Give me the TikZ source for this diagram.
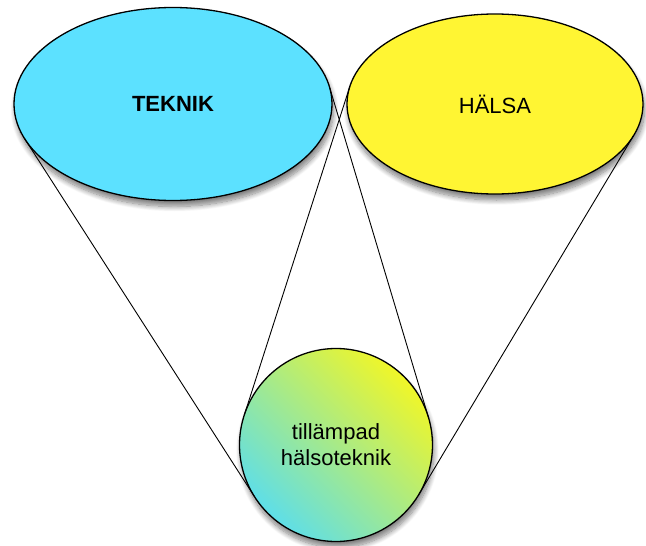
\documentclass[tikz,border=0pt]{standalone}
\usepackage{fontspec}
\setmainfont{Liberation Sans}
\usetikzlibrary{shapes.geometric,shadows.blur}
\definecolor{tekblue}{RGB}{92,225,255}
\definecolor{halyel}{RGB}{255,245,51}
\definecolor{gradyel}{RGB}{240,246,40}
\definecolor{gradmid}{RGB}{172,236,130}
\definecolor{gradcyan}{RGB}{94,222,232}
\tikzset{
  blob/.style={ellipse, draw=black, line width=1.3pt, inner sep=0pt, outer sep=0pt,
    font=\fontsize{22}{26}\selectfont,
    blur shadow={shadow xshift=1.5pt, shadow yshift=-6pt, shadow opacity=50, shadow blur steps=10, shadow blur radius=5pt}},
  link/.style={draw=black, line width=0.9pt}
}
\begin{document}
\begin{tikzpicture}[x=1pt,y=-1pt]
\useasboundingbox (0,0) rectangle (646,546);
\node[blob, fill=tekblue, minimum width=318pt, minimum height=193pt] (tek) at (173,104) {\bfseries TEKNIK};
\node[blob, fill=halyel, minimum width=296pt, minimum height=180pt] (hal) at (495,104) {HÄLSA};
\node[blob, circle, minimum size=193pt, top color=gradyel, middle color=gradmid, bottom color=gradcyan, shading angle=-45, align=center] (app) at (336,445) {tillämpad\\hälsoteknik};
\draw[link] (tek.193.2) -- (app.212.75);
\draw[link] (tek.6.2) -- (app.16.7);
\draw[link] (hal.173.2) -- (app.162.2);
\draw[link] (hal.347.5) -- (app.329.1);
\end{tikzpicture}
\end{document}
